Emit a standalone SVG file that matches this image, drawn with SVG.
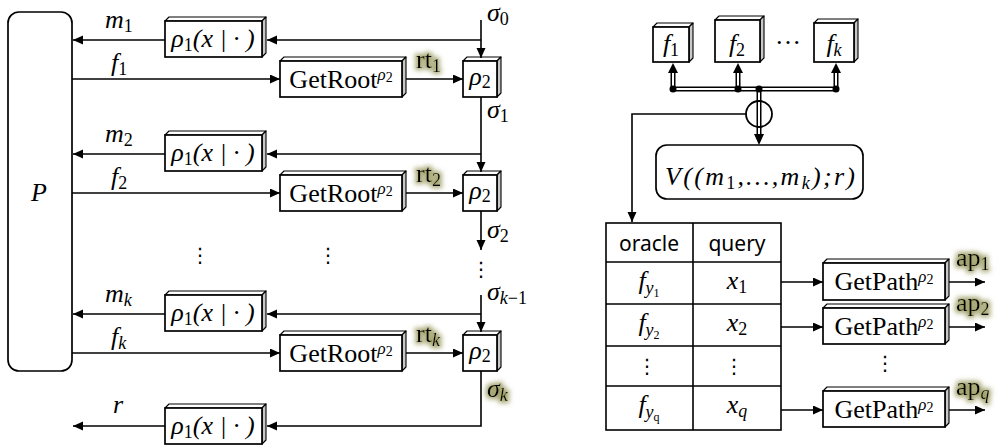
<svg xmlns="http://www.w3.org/2000/svg" width="1000" height="448" viewBox="0 0 1000 448">
  <defs>
    <marker id="ah" markerUnits="userSpaceOnUse" markerWidth="11" markerHeight="10" refX="10" refY="4.5" orient="auto">
      <path d="M0,0 L10,4.5 L0,9 z" fill="#000"/>
    </marker>
    <filter id="glow" x="-40%" y="-40%" width="180%" height="180%">
      <feMorphology in="SourceAlpha" operator="dilate" radius="2" result="d"/>
      <feGaussianBlur in="d" stdDeviation="2.5" result="b"/>
      <feFlood flood-color="#8a8a48" flood-opacity="0.8"/>
      <feComposite in2="b" operator="in" result="g"/>
      <feMerge><feMergeNode in="g"/><feMergeNode in="SourceGraphic"/></feMerge>
    </filter>
  </defs>
  <style>
    .ln{fill:none;stroke:#000;stroke-width:1.6}
    .ar{marker-end:url(#ah)}
    .fr{fill:#fff;stroke:#000;stroke-width:1.7}
    .tp{fill:#fff;stroke:#000;stroke-width:1.1;stroke-linejoin:round}
    .sd{fill:#c8c8c8;stroke:#000;stroke-width:1.1;stroke-linejoin:round}
    .mi{font-family:"Liberation Serif",serif;font-style:italic;font-size:26px;fill:#000}
    .rm{font-family:"Liberation Serif",serif;font-size:26px;fill:#000}
    .sub{font-style:normal;font-size:18px}
    .isub{font-style:italic;font-size:18px}
    .sup{font-style:italic;font-size:17px}
    .sup2{font-style:normal;font-size:14px}
    .ss{font-style:normal;font-size:12px}
    .dots{font-family:"DejaVu Sans",sans-serif;font-size:20px;fill:#000}
    .hd{font-family:"Noto Sans",sans-serif;font-size:21px;fill:#000}
    .bus{fill:none;stroke:#000;stroke-width:5}
    .busin{fill:none;stroke:#fff;stroke-width:2}
    .gl{filter:url(#glow)}
  </style>

  <!-- prover -->
  <g id="prover">
    <rect class="fr" x="8" y="12" width="64" height="359" rx="11"/>
    <text class="mi" x="39" y="201" text-anchor="middle">P</text>
  </g>

  <!-- row 1 -->
  <g id="rho1-1">
    <polygon class="tp" points="165,21 169,17 266,17 262,21"/>
    <polygon class="sd" points="262,21 266,17 266,53 262,57"/>
    <rect class="fr" x="165" y="21" width="97" height="36"/>
    <text class="mi" x="213" y="47" text-anchor="middle">ρ<tspan class="sub" dy="4">1</tspan><tspan dy="-4">(x | · )</tspan></text>
  </g>
  <g id="getroot-1">
    <polygon class="tp" points="280,61 284,57 406,57 402,61"/>
    <polygon class="sd" points="402,61 406,57 406,93 402,97"/>
    <rect class="fr" x="280" y="61" width="122" height="36"/>
    <text class="rm" x="341" y="88" text-anchor="middle">GetRoot<tspan class="sup" dy="-8">ρ</tspan><tspan class="sup2" dy="2">2</tspan></text>
  </g>
  <g id="rho2-1">
    <polygon class="tp" points="463,61 467,57 501,57 497,61"/>
    <polygon class="sd" points="497,61 501,57 501,93 497,97"/>
    <rect class="fr" x="463" y="61" width="34" height="36"/>
    <text class="mi" x="480" y="85" text-anchor="middle">ρ<tspan class="sub" dy="3">2</tspan></text>
  </g>

  <!-- row 2 -->
  <g id="rho1-2">
    <polygon class="tp" points="165,135 169,131 266,131 262,135"/>
    <polygon class="sd" points="262,135 266,131 266,167 262,171"/>
    <rect class="fr" x="165" y="135" width="97" height="36"/>
    <text class="mi" x="213" y="161" text-anchor="middle">ρ<tspan class="sub" dy="4">1</tspan><tspan dy="-4">(x | · )</tspan></text>
  </g>
  <g id="getroot-2">
    <polygon class="tp" points="280,175 284,171 406,171 402,175"/>
    <polygon class="sd" points="402,175 406,171 406,207 402,211"/>
    <rect class="fr" x="280" y="175" width="122" height="36"/>
    <text class="rm" x="341" y="202" text-anchor="middle">GetRoot<tspan class="sup" dy="-8">ρ</tspan><tspan class="sup2" dy="2">2</tspan></text>
  </g>
  <g id="rho2-2">
    <polygon class="tp" points="463,175 467,171 501,171 497,175"/>
    <polygon class="sd" points="497,175 501,171 501,207 497,211"/>
    <rect class="fr" x="463" y="175" width="34" height="36"/>
    <text class="mi" x="480" y="199" text-anchor="middle">ρ<tspan class="sub" dy="3">2</tspan></text>
  </g>

  <!-- row k -->
  <g id="rho1-k">
    <polygon class="tp" points="165,295 169,291 266,291 262,295"/>
    <polygon class="sd" points="262,295 266,291 266,327 262,331"/>
    <rect class="fr" x="165" y="295" width="97" height="36"/>
    <text class="mi" x="213" y="321" text-anchor="middle">ρ<tspan class="sub" dy="4">1</tspan><tspan dy="-4">(x | · )</tspan></text>
  </g>
  <g id="getroot-k">
    <polygon class="tp" points="280,335 284,331 406,331 402,335"/>
    <polygon class="sd" points="402,335 406,331 406,367 402,371"/>
    <rect class="fr" x="280" y="335" width="122" height="36"/>
    <text class="rm" x="341" y="362" text-anchor="middle">GetRoot<tspan class="sup" dy="-8">ρ</tspan><tspan class="sup2" dy="2">2</tspan></text>
  </g>
  <g id="rho2-k">
    <polygon class="tp" points="463,335 467,331 501,331 497,335"/>
    <polygon class="sd" points="497,335 501,331 501,367 497,371"/>
    <rect class="fr" x="463" y="335" width="34" height="36"/>
    <text class="mi" x="480" y="359" text-anchor="middle">ρ<tspan class="sub" dy="3">2</tspan></text>
  </g>

  <!-- final decision -->
  <g id="rho1-r">
    <polygon class="tp" points="165,408 169,404 266,404 262,408"/>
    <polygon class="sd" points="262,408 266,404 266,440 262,444"/>
    <rect class="fr" x="165" y="408" width="97" height="36"/>
    <text class="mi" x="213" y="434" text-anchor="middle">ρ<tspan class="sub" dy="4">1</tspan><tspan dy="-4">(x | · )</tspan></text>
  </g>

  <!-- oracles -->
  <g id="f1">
    <polygon class="tp" points="653,27 657,23 693,23 689,27"/>
    <polygon class="sd" points="689,27 693,23 693,58 689,62"/>
    <rect class="fr" x="653" y="27" width="36" height="35"/>
    <text class="mi" x="671" y="52" text-anchor="middle">f<tspan class="sub" dy="4">1</tspan></text>
  </g>
  <g id="f2">
    <polygon class="tp" points="715,20 719,16 764,16 760,20"/>
    <polygon class="sd" points="760,20 764,16 764,58 760,62"/>
    <rect class="fr" x="715" y="20" width="45" height="42"/>
    <text class="mi" x="737" y="52" text-anchor="middle">f<tspan class="sub" dy="4">2</tspan></text>
  </g>
  <g id="fk">
    <polygon class="tp" points="814,23 818,19 858,19 854,23"/>
    <polygon class="sd" points="854,23 858,19 858,58 854,62"/>
    <rect class="fr" x="814" y="23" width="40" height="39"/>
    <text class="mi" x="834" y="52" text-anchor="middle">f<tspan class="isub" dy="4">k</tspan></text>
  </g>
  <text class="rm" x="788" y="44" text-anchor="middle" font-size="20">…</text>

  <!-- verifier -->
  <g id="verifier">
    <rect class="fr" x="656" y="145" width="207" height="54" rx="11"/>
    <text class="mi" x="760" y="185" text-anchor="middle" font-size="27" textLength="190" lengthAdjust="spacing">V((m<tspan class="sub" dy="4">1</tspan><tspan dy="-4">,…,m</tspan><tspan class="isub" dy="4">k</tspan><tspan dy="-4">);r)</tspan></text>
  </g>

  <!-- query table -->
  <g id="table">
    <rect x="606" y="223" width="175" height="207" fill="#fff" stroke="#000" stroke-width="1.6"/>
    <path class="ln" d="M693,223 V430 M606,262 H781 M606,304 H781 M606,346 H781 M606,386 H781"/>
    <text class="hd" x="649" y="251" text-anchor="middle">oracle</text>
    <text class="hd" x="737" y="251" text-anchor="middle">query</text>
    <text class="mi" x="649" y="289" text-anchor="middle">f<tspan class="isub" dy="5">y</tspan><tspan class="ss" dy="3">1</tspan></text>
    <text class="mi" x="737" y="289" text-anchor="middle">x<tspan class="sub" dy="4">1</tspan></text>
    <text class="mi" x="649" y="331" text-anchor="middle">f<tspan class="isub" dy="5">y</tspan><tspan class="ss" dy="3">2</tspan></text>
    <text class="mi" x="737" y="331" text-anchor="middle">x<tspan class="sub" dy="4">2</tspan></text>
    <text class="dots" x="647" y="373" text-anchor="middle">⋮</text>
    <text class="dots" x="734" y="373" text-anchor="middle">⋮</text>
    <text class="mi" x="649" y="413" text-anchor="middle">f<tspan class="isub" dy="5">y</tspan><tspan class="ss" font-style="italic" dy="3">q</tspan></text>
    <text class="mi" x="737" y="413" text-anchor="middle">x<tspan class="isub" dy="4">q</tspan></text>
  </g>

  <!-- path requests -->
  <g id="getpath-1">
    <polygon class="tp" points="823,263 827,259 949,259 945,263"/>
    <polygon class="sd" points="945,263 949,259 949,296 945,300"/>
    <rect class="fr" x="823" y="263" width="122" height="37"/>
    <text class="rm" x="884" y="290" text-anchor="middle">GetPath<tspan class="sup" dy="-8">ρ</tspan><tspan class="sup2" dy="2">2</tspan></text>
  </g>
  <g id="getpath-2">
    <polygon class="tp" points="823,308 827,304 949,304 945,308"/>
    <polygon class="sd" points="945,308 949,304 949,340 945,344"/>
    <rect class="fr" x="823" y="308" width="122" height="36"/>
    <text class="rm" x="884" y="335" text-anchor="middle">GetPath<tspan class="sup" dy="-8">ρ</tspan><tspan class="sup2" dy="2">2</tspan></text>
  </g>
  <g id="getpath-q">
    <polygon class="tp" points="823,391 827,387 949,387 945,391"/>
    <polygon class="sd" points="945,391 949,387 949,423 945,427"/>
    <rect class="fr" x="823" y="391" width="122" height="36"/>
    <text class="rm" x="884" y="418" text-anchor="middle">GetPath<tspan class="sup" dy="-8">ρ</tspan><tspan class="sup2" dy="2">2</tspan></text>
  </g>

  <!-- connectors -->
  <g id="connectors">
    <!-- sigma chain -->
    <path class="ln ar" d="M481,20 V58"/>
    <path class="ln ar" d="M481,40 H267"/>
    <path class="ln ar" d="M481,97 V172"/>
    <path class="ln ar" d="M481,154 H267"/>
    <path class="ln ar" d="M481,211 V250"/>
    <path class="ln ar" d="M481,295 V332"/>
    <path class="ln ar" d="M481,314 H267"/>
    <path class="ln ar" d="M481,371 V426 H267"/>
    <!-- messages to prover -->
    <path class="ln ar" d="M165,40 H73"/>
    <path class="ln ar" d="M165,154 H73"/>
    <path class="ln ar" d="M165,314 H73"/>
    <path class="ln ar" d="M165,426 H73"/>
    <!-- commitments -->
    <path class="ln ar" d="M72,79 H280"/>
    <path class="ln ar" d="M72,193 H280"/>
    <path class="ln ar" d="M72,353 H280"/>
    <path class="ln ar" d="M406,79 H463"/>
    <path class="ln ar" d="M406,193 H463"/>
    <path class="ln ar" d="M406,353 H463"/>
    <!-- oracle bus -->
    <path class="bus" d="M673,72 V89 M738,72 V89 M836,72 V89 M673,89 H836 M759,89 V135"/>
    <path class="busin" d="M673,72 V89 M738,72 V89 M836,72 V89 M673,89 H836 M759,89 V135"/>
    <polygon points="668,73 673,63 678,73" fill="#000"/>
    <polygon points="733,73 738,63 743,73" fill="#000"/>
    <polygon points="831,73 836,63 841,73" fill="#000"/>
    <polygon points="754,134 759,145 764,134" fill="#000"/>
    <circle cx="673" cy="89" r="3.5" fill="#000"/>
    <circle cx="738" cy="89" r="3.5" fill="#000"/>
    <circle cx="759" cy="89" r="3.5" fill="#000"/>
    <circle cx="836" cy="89" r="3.5" fill="#000"/>
    <circle cx="759" cy="114" r="13" fill="none" stroke="#000" stroke-width="1.8"/>
    <path class="ln ar" d="M746,114 H632 V222"/>
    <!-- queries -->
    <path class="ln ar" d="M781,282 H823"/>
    <path class="ln ar" d="M781,327 H823"/>
    <path class="ln ar" d="M781,410 H823"/>
    <path class="ln ar" d="M949,282 H985"/>
    <path class="ln ar" d="M949,327 H985"/>
    <path class="ln ar" d="M949,410 H985"/>
  </g>

  <!-- labels -->
  <g id="labels">
    <text class="mi" x="105" y="28">m<tspan class="sub" dy="4">1</tspan></text>
    <text class="mi" x="111" y="71">f<tspan class="sub" dy="4">1</tspan></text>
    <text class="mi" x="105" y="142">m<tspan class="sub" dy="4">2</tspan></text>
    <text class="mi" x="111" y="185">f<tspan class="sub" dy="4">2</tspan></text>
    <text class="mi" x="105" y="302">m<tspan class="isub" dy="4">k</tspan></text>
    <text class="mi" x="111" y="345">f<tspan class="isub" dy="4">k</tspan></text>
    <text class="mi" x="113" y="413">r</text>

    <text class="mi" x="487" y="21">σ<tspan class="sub" dy="4">0</tspan></text>
    <text class="mi" x="487" y="118">σ<tspan class="sub" dy="4">1</tspan></text>
    <text class="mi" x="487" y="238">σ<tspan class="sub" dy="4">2</tspan></text>
    <text class="mi" x="487" y="300">σ<tspan class="isub" dy="4">k</tspan><tspan class="sub" dy="0">−1</tspan></text>
    <text class="mi gl" x="487" y="397">σ<tspan class="isub" dy="4">k</tspan></text>

    <text class="rm gl" x="416" y="68">rt<tspan class="sub" dy="4">1</tspan></text>
    <text class="rm gl" x="416" y="182">rt<tspan class="sub" dy="4">2</tspan></text>
    <text class="rm gl" x="416" y="342">rt<tspan class="isub" dy="4">k</tspan></text>

    <text class="rm gl" x="956" y="266">ap<tspan class="sub" dy="4">1</tspan></text>
    <text class="rm gl" x="956" y="311">ap<tspan class="sub" dy="4">2</tspan></text>
    <text class="rm gl" x="956" y="395">ap<tspan class="isub" dy="4">q</tspan></text>

    <text class="dots" x="200" y="262" text-anchor="middle">⋮</text>
    <text class="dots" x="328" y="262" text-anchor="middle">⋮</text>
    <text class="dots" x="481" y="276" text-anchor="middle">⋮</text>
    <text class="dots" x="885" y="370" text-anchor="middle">⋮</text>
  </g>
</svg>
